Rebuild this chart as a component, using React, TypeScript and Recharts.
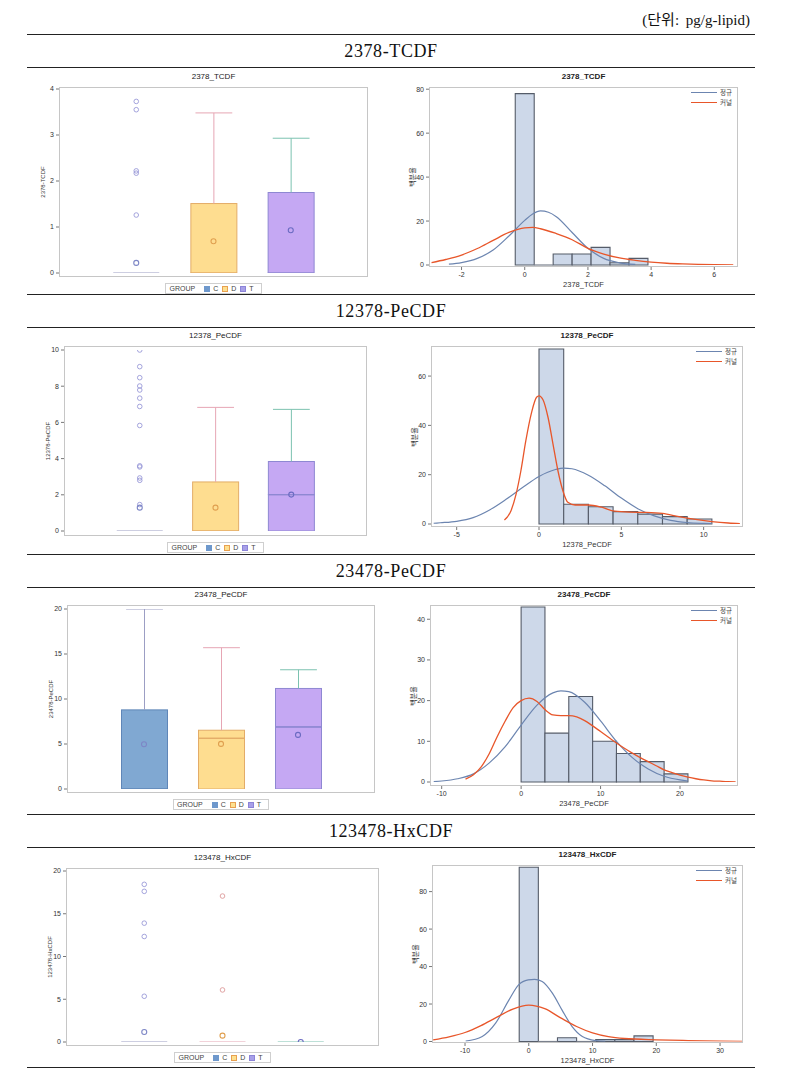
import React from 'react';
import {
  ComposedChart,
  Bar,
  Scatter,
  Line,
  XAxis,
  YAxis,
  ReferenceArea,
  ReferenceLine,
  Legend,
} from 'recharts';

// ---- data ----
const groups = ['C', 'D', 'T'];

// group, min, q1, median, q3, max, mean
const tcdfStats = [
  ['C', 0, 0, 0, 0, 0, 0.22],
  ['D', 0, 0, 0, 1.51, 3.48, 0.69],
  ['T', 0, 0, 0, 1.75, 2.93, 0.93],
];
const tcdfOutliers = [['C', 3.73], ['C', 3.55], ['C', 2.22], ['C', 2.17], ['C', 1.26]];
// bin low, bin high, percent
const tcdfBins = [[-0.3, 0.3, 78], [0.3, 0.9, 0], [0.9, 1.5, 5], [1.5, 2.1, 5], [2.1, 2.7, 8], [2.7, 3.3, 1], [3.3, 3.9, 3]];
const tcdfNormal = [[-2.4, 0.4], [-2, 1.1], [-1.5, 3], [-1, 6.8], [-0.5, 13.2], [0, 20.3], [0.25, 23.2], [0.5, 24.6], [0.75, 24], [1, 22], [1.5, 14.8], [2, 7.6], [2.5, 3], [3, 1], [3.5, 0.25]];
const tcdfKernel = [[-2.95, 1.1], [-2.5, 2.5], [-2, 4.5], [-1.5, 7.5], [-1, 11.2], [-0.5, 14.8], [0, 16.9], [0.25, 17.1], [0.5, 16.5], [1, 14.3], [1.5, 11.5], [2, 7.6], [2.5, 5], [3, 3.2], [3.5, 2.1], [4, 1.3], [4.5, 0.8], [5, 0.5], [5.5, 0.3], [6, 0.15], [6.6, 0.05]];
const tcdfBoxTicks = [0, 1, 2, 3, 4];
const tcdfXTicks = [-2, 0, 2, 4, 6];
const tcdfYTicks = [0, 20, 40, 60, 80];

const pe1Stats = [
  ['C', 0, 0, 0, 0, 0, 1.29],
  ['D', 0, 0, 0, 2.71, 6.83, 1.29],
  ['T', 0, 0, 2.01, 3.84, 6.72, 2.01],
];
const pe1Outliers = [['C', 10.0], ['C', 9.08], ['C', 8.47], ['C', 8.01], ['C', 7.79], ['C', 7.34], ['C', 6.88], ['C', 5.83], ['C', 3.6], ['C', 3.54], ['C', 2.93], ['C', 2.8], ['C', 1.46]];
const pe1Bins = [[0, 1.5, 71], [1.5, 3, 8], [3, 4.5, 7], [4.5, 6, 5], [6, 7.5, 4], [7.5, 9, 3], [9, 10.5, 2]];
const pe1Normal = [[-6.4, 0.3], [-6, 0.5], [-5, 1.1], [-4, 2.6], [-3, 5.7], [-2, 10], [-1, 14.8], [0, 19.3], [1, 22.1], [1.5, 22.7], [2, 22.4], [3, 19.8], [4, 15.5], [5, 10.5], [6, 6.2], [7, 3.3], [8, 1.5], [9, 0.6], [10, 0.25], [10.5, 0.15]];
const pe1Kernel = [[-2.1, 1.6], [-1.7, 5.4], [-1.4, 11.9], [-1.1, 21.6], [-0.8, 33.8], [-0.45, 45.3], [-0.15, 51.4], [0, 52], [0.25, 50.3], [0.55, 43.2], [0.85, 32.4], [1.15, 21.6], [1.45, 13.5], [1.75, 8.8], [2.2, 7.7], [3, 7.7], [3.8, 6.8], [4.6, 5.2], [5.5, 4.8], [6.5, 4.7], [7.5, 4.3], [8.5, 3], [9.5, 1.9], [10.5, 1], [11.5, 0.4], [12.2, 0.15]];
const pe1BoxTicks = [0, 2, 4, 6, 8, 10];
const pe1XTicks = [-5, 0, 5, 10];
const pe1YTicks = [0, 20, 40, 60];

const pe2Stats = [
  ['C', 0, 0, 0, 8.79, 20.0, 4.97],
  ['D', 0, 0, 5.64, 6.53, 15.7, 5.01],
  ['T', 0, 0, 6.9, 11.17, 13.25, 6.01],
];
const pe2Outliers: any[] = [];
const pe2Bins = [[0, 3, 43], [3, 6, 12], [6, 9, 21], [9, 12, 10], [12, 15, 7], [15, 18, 5], [18, 21, 2]];
const pe2Normal = [[-11, 0.1], [-10, 0.25], [-8, 0.8], [-6, 2], [-4, 4.7], [-2, 8.7], [0, 14], [2, 18.9], [4, 21.9], [5, 22.4], [6, 22.2], [8, 19.6], [10, 15], [12, 10], [14, 6], [16, 3.2], [18, 1.4], [20, 0.5], [21, 0.25]];
const pe2Kernel = [[-7, 0.7], [-6, 1.8], [-5, 3.8], [-4, 7], [-3, 11.2], [-2, 15], [-1, 18.3], [0, 20], [1, 20.6], [2, 19.8], [3, 17.8], [4, 16.5], [5, 16.3], [6, 16.3], [7, 16], [8, 15.1], [9, 13.8], [10, 12.4], [11, 11], [12, 9.6], [13, 8.3], [14, 7.1], [15, 6], [16, 5], [17, 4], [18, 3], [19, 2.3], [20, 1.7], [21, 1.2], [22, 0.8], [23, 0.5], [24, 0.3], [25, 0.2], [26, 0.1], [27, 0.05]];
const pe2BoxTicks = [0, 5, 10, 15, 20];
const pe2XTicks = [-10, 0, 10, 20];
const pe2YTicks = [0, 10, 20, 30, 40];

const hxStats = [
  ['C', 0, 0, 0, 0, 0, 1.17],
  ['D', 0, 0, 0, 0, 0, 0.74],
  ['T', 0, 0, 0, 0, 0, 0],
];
const hxOutliers = [['C', 18.44], ['C', 17.62], ['C', 13.9], ['C', 12.34], ['C', 5.35], ['D', 17.07], ['D', 6.09]];
const hxBins = [[-1.5, 1.5, 93], [1.5, 4.5, 0], [4.5, 7.5, 2], [7.5, 10.5, 0], [10.5, 13.5, 1], [13.5, 16.5, 1], [16.5, 19.5, 3]];
const hxNormal = [[-9.9, 0.2], [-7.3, 2.7], [-5.2, 9.8], [-3.1, 22.2], [-1.6, 30.2], [-0.1, 32.9], [0.9, 33.2], [2.1, 32], [3.7, 25.8], [5.2, 16.9], [6.8, 8], [8.4, 2.7], [10.5, 0.5], [12, 0.1]];
const hxKernel = [[-15, 0.9], [-12.5, 2.5], [-10, 4.8], [-7.5, 8.5], [-5, 13], [-2.5, 17.3], [0, 19.4], [2.5, 17.5], [5, 12.6], [7.5, 8], [10, 4.6], [12.5, 2.6], [15, 1.6], [20, 0.9], [25, 0.5], [30, 0.2], [33.5, 0.1]];
const hxBoxTicks = [0, 5, 10, 15, 20];
const hxXTicks = [-10, 0, 10, 20, 30];
const hxYTicks = [0, 20, 40, 60, 80];

// ---- styles ----
const sans = '"Liberation Sans", Arial, "Noto Sans CJK KR", sans-serif';
const korean = '"Noto Sans CJK KR", "Noto Sans", sans-serif';
const serif = '"Liberation Serif", "DejaVu Serif", "Noto Sans CJK KR", serif';
const frameColor = '#c6c6c6';
const tickStyle = { fontSize: 7, fill: '#333', fontFamily: sans };
const boxFill: any = { C: '#80a8d2', D: '#fedd90', T: '#c5a8f3' };
const boxLine: any = { C: '#5f86b8', D: '#e3ac68', T: '#8e88d2' };
const whiskLine: any = { C: '#9c9ec4', D: '#e6a6b4', T: '#7cc2b0' };
const outColor: any = { C: '#9a9ad8', D: '#dc9a9a', T: '#5ab0a0' };
const meanColor: any = { C: '#7d86c6', D: '#e0a050', T: '#6b6bc2' };
const legendSq: any = { C: ['#6e98cc', '#6e98cc'], D: ['#fde08f', '#e8a050'], T: ['#a8a0e8', '#8c84d8'] };
const histFill = '#cdd8e9';
const histStroke = '#555c69';
const normalColor = '#6c85b0';
const kernelColor = '#e8562a';

const BoxShape = (p: any) => {
  const { x, y, width, height, payload } = p;
  if (!(height > 0)) return null;
  return <rect x={x} y={y} width={width} height={height} fill={boxFill[payload.g]} stroke={boxLine[payload.g]} strokeWidth={1} />;
};

const WhiskerShape = (p: any) => {
  const { x, y, width, height, payload } = p;
  if (!(height > 0)) return null;
  const cx = x + width / 2;
  const c = whiskLine[payload.g];
  return (
    <g>
      <line x1={cx} x2={cx} y1={y} y2={y + height} stroke={c} strokeWidth={1} />
      <line x1={x + width * 0.1} x2={x + width * 0.9} y1={y} y2={y} stroke={c} strokeWidth={1} />
    </g>
  );
};

const LowWhiskerShape = (p: any) => {
  const { x, y, width, height, payload } = p;
  if (!(height > 0)) return null;
  const cx = x + width / 2;
  const c = whiskLine[payload.g];
  return (
    <g>
      <line x1={cx} x2={cx} y1={y} y2={y + height} stroke={c} strokeWidth={1} />
      <line x1={x + width * 0.1} x2={x + width * 0.9} y1={y + height} y2={y + height} stroke={c} strokeWidth={1} />
    </g>
  );
};

const MedianShape = (p: any) => {
  const { cx, cy, payload } = p;
  const flat = payload.q3 === payload.q1;
  const c = flat ? whiskLine[payload.g] : boxLine[payload.g];
  return <line x1={cx - 23} x2={cx + 23} y1={cy} y2={cy} stroke={c} strokeWidth={1.2} />;
};

const OutlierShape = (p: any) => (
  <circle cx={p.cx} cy={p.cy} r={2.3} fill="none" stroke={outColor[p.payload.g]} strokeWidth={0.9} />
);
const MeanShape = (p: any) => (
  <circle cx={p.cx} cy={p.cy} r={2.5} fill="none" stroke={meanColor[p.payload.g]} strokeWidth={1.1} />
);

const BoxLegend = () => (
  <div style={{ display: 'flex', justifyContent: 'center' }}>
    <div style={{ display: 'flex', alignItems: 'center', border: '1px solid #cfcfcf', padding: '0 3px', height: 9, fontFamily: sans, fontSize: 7, color: '#444', background: '#fff' }}>
      <span style={{ marginRight: 9 }}>GROUP</span>
      {groups.map((g) => (
        <span key={g} style={{ display: 'flex', alignItems: 'center', marginRight: 4 }}>
          <span style={{ width: 4, height: 4, background: legendSq[g][0], border: `1px solid ${legendSq[g][1]}`, marginRight: 3 }} />
          {g}
        </span>
      ))}
    </div>
  </div>
);

const HistLegend = () => (
  <div style={{ fontFamily: korean, fontSize: 6.5, lineHeight: '9.5px', color: '#444', width: 59 }}>
    {[['정규', normalColor], ['커널', kernelColor]].map(([t, c]) => (
      <div key={t} style={{ display: 'flex', alignItems: 'center', justifyContent: 'flex-end', height: 9.5, whiteSpace: 'nowrap' }}>
        <span style={{ display: 'inline-block', width: 26, height: 0, borderTop: `1.3px solid ${c}`, marginRight: 3 }} />
        <span style={{ display: 'inline-block', width: 15, whiteSpace: 'nowrap' }}>{t}</span>
      </div>
    ))}
  </div>
);

// plot frame, title and rotated y label drawn around the chart's plot area
const FrameAndTitle = ({ ml, mt, frame, title, bold, yLabel, yLabelX, yLabelSize, yFont }: any) => (
  <>
    <div style={{ position: 'absolute', left: ml, top: mt, width: frame.width, height: frame.height, border: `1px solid ${frameColor}`, boxSizing: 'border-box', pointerEvents: 'none' }} />
    <div style={{ position: 'absolute', left: ml, top: mt - 15, width: frame.width, textAlign: 'center', fontFamily: sans, fontSize: 8, fontWeight: bold ? 'bold' : 'normal', color: '#222' }}>{title}</div>
    <div style={{ position: 'absolute', left: yLabelX - 50, top: mt + frame.height / 2 - 5, width: 100, height: 10, lineHeight: '10px', textAlign: 'center', transform: 'rotate(-90deg)', fontFamily: yFont, fontSize: yLabelSize, color: '#333', whiteSpace: 'nowrap' }}>{yLabel}</div>
  </>
);

function BoxPanel({ frame, title, yLabel, stats, outliers, ticks, pad }: any) {
  const ml = 40, mt = 20, mb = 20;
  const W = frame.width + ml + 2;
  const H = frame.height + mt + mb;
  const rows = stats.map(([g, min, q1, median, q3, max]: any) => ({
    g, base: min, lowWhisk: q1 - min, lowBox: median - q1, highBox: q3 - median, highWhisk: max - q3, median, q1, q3,
  }));
  const means = stats.map((s: any) => ({ g: s[0], v: s[6] }));
  const outs = outliers.map(([g, v]: any) => ({ g, v }));
  const xPad = frame.width * 0.125;
  return (
    <div style={{ position: 'absolute', left: frame.left - ml, top: frame.top - mt, width: W, height: H }}>
      <ComposedChart width={W} height={H} data={rows} margin={{ top: mt, left: 0, right: 2, bottom: mb }}>
        <XAxis dataKey="g" type="category" allowDuplicatedCategory={false} height={0} tick={false} tickLine={false}
          axisLine={false} padding={{ left: xPad, right: xPad }} />
        <YAxis type="number" domain={[ticks[0], ticks[ticks.length - 1]]} ticks={ticks} allowDataOverflow width={ml}
          padding={pad} tick={tickStyle} tickSize={3} tickLine={{ stroke: '#777' }} axisLine={false} />
        <Bar dataKey="base" stackId="s" barSize={46} fill="none" isAnimationActive={false} />
        <Bar dataKey="lowWhisk" stackId="s" barSize={46} shape={LowWhiskerShape} isAnimationActive={false} />
        <Bar dataKey="lowBox" stackId="s" barSize={46} shape={BoxShape} isAnimationActive={false} />
        <Bar dataKey="highBox" stackId="s" barSize={46} shape={BoxShape} isAnimationActive={false} />
        <Bar dataKey="highWhisk" stackId="s" barSize={46} shape={WhiskerShape} isAnimationActive={false} />
        <Scatter data={rows} dataKey="median" shape={MedianShape} isAnimationActive={false} />
        <Scatter data={outs} dataKey="v" shape={OutlierShape} isAnimationActive={false} />
        <Scatter data={means} dataKey="v" shape={MeanShape} isAnimationActive={false} />
        <Legend layout="vertical" align="center" verticalAlign="middle" content={() => <BoxLegend />}
          wrapperStyle={{ left: ml, top: H - mb + 6, width: frame.width }} />
      </ComposedChart>
      <FrameAndTitle ml={ml} mt={mt} frame={frame} title={title} yLabel={yLabel} yLabelX={ml - 16} yLabelSize={6} yFont={sans} />
    </div>
  );
}

function HistPanel({ frame, title, xLabel, bins, normal, kernel, xDomain, xTicks, yTop, yTicks, padBottom }: any) {
  const ml = 40, mt = 20, mb = 26;
  const W = frame.width + ml + 2;
  const H = frame.height + mt + mb;
  const normalPts = normal.map(([x, y]: any) => ({ x, y }));
  const kernelPts = kernel.map(([x, y]: any) => ({ x, y }));
  return (
    <div style={{ position: 'absolute', left: frame.left - ml, top: frame.top - mt, width: W, height: H }}>
      <ComposedChart width={W} height={H} margin={{ top: mt, left: 0, right: 2, bottom: 0 }}>
        <XAxis dataKey="x" type="number" domain={xDomain} ticks={xTicks} allowDataOverflow height={mb}
          tick={tickStyle} tickSize={3} tickLine={{ stroke: '#777' }} axisLine={false}
          label={{ value: xLabel, position: 'insideBottom', offset: 6, fontSize: 7.5, fill: '#333', fontFamily: sans }} />
        <YAxis type="number" domain={[0, yTop]} ticks={yTicks} allowDataOverflow width={ml} padding={{ top: 0, bottom: padBottom }}
          tick={tickStyle} tickSize={3} tickLine={{ stroke: '#777' }} axisLine={false} />
        {bins.filter((b: any) => b[2] > 0).map(([lo, hi, p]: any) => (
          <ReferenceArea key={`a${lo}`} x1={lo} x2={hi} y1={0} y2={p} fill={histFill} fillOpacity={1}
            stroke={histStroke} strokeWidth={1.1} ifOverflow="visible" />
        ))}
        {bins.filter((b: any) => b[2] === 0).map(([lo, hi]: any) => (
          <ReferenceLine key={`l${lo}`} segment={[{ x: lo, y: 0 }, { x: hi, y: 0 }]} stroke="#7a808c" strokeWidth={1.2} />
        ))}
        <Line data={normalPts} dataKey="y" type="monotone" dot={false} stroke={normalColor} strokeWidth={1.2} isAnimationActive={false} />
        <Line data={kernelPts} dataKey="y" type="monotone" dot={false} stroke={kernelColor} strokeWidth={1.3} isAnimationActive={false} />
        <Legend layout="vertical" align="center" verticalAlign="middle" content={() => <HistLegend />}
          wrapperStyle={{ left: W - 2 - 62, top: mt + 1, width: 59 }} />
      </ComposedChart>
      <FrameAndTitle ml={ml} mt={mt} frame={frame} title={title} bold yLabel="백분율" yLabelX={ml - 17} yLabelSize={7} yFont={korean} />
    </div>
  );
}

const rules = [35, 68, 295, 328, 555, 588, 815, 848, 1068];
const headings = [
  ['2378-TCDF', 35, 68],
  ['12378-PeCDF', 295, 328],
  ['23478-PeCDF', 555, 588],
  ['123478-HxCDF', 815, 848],
];

export default function App() {
  return (
    <div style={{ position: 'absolute', left: 0, top: 0, width: 786, height: 1070, background: '#fff', fontFamily: serif, overflow: 'hidden' }}>
      <div style={{ position: 'absolute', right: 36, top: 8, fontSize: 15, color: '#111', wordSpacing: 3 }}>(단위: pg/g-lipid)</div>
      {rules.map((y) => (
        <div key={y} style={{ position: 'absolute', left: 27, width: 728, top: y - 0.75, borderTop: '1.5px solid #222' }} />
      ))}
      {headings.map(([t, a, b]: any) => (
        <div key={t} style={{ position: 'absolute', left: 27, width: 728, top: a, height: b - a, display: 'flex', alignItems: 'center', justifyContent: 'center', fontSize: 18, letterSpacing: 0.6, color: '#111' }}>
          {t}
        </div>
      ))}

      <BoxPanel frame={{ left: 59, top: 87, width: 309, height: 190 }} title="2378_TCDF" yLabel="2378-TCDF"
        stats={tcdfStats} outliers={tcdfOutliers} ticks={tcdfBoxTicks} pad={{ top: 2, bottom: 4 }} />
      <HistPanel frame={{ left: 429, top: 87, width: 309, height: 180 }} title="2378_TCDF" xLabel="2378_TCDF"
        bins={tcdfBins} normal={tcdfNormal} kernel={tcdfKernel} xDomain={[-3.03, 6.75]} xTicks={tcdfXTicks}
        yTop={81} yTicks={tcdfYTicks} padBottom={2} />

      <BoxPanel frame={{ left: 64, top: 346, width: 303, height: 190 }} title="12378_PeCDF" yLabel="12378-PeCDF"
        stats={pe1Stats} outliers={pe1Outliers} ticks={pe1BoxTicks} pad={{ top: 4, bottom: 5 }} />
      <HistPanel frame={{ left: 431, top: 346, width: 312, height: 181 }} title="12378_PeCDF" xLabel="12378_PeCDF"
        bins={pe1Bins} normal={pe1Normal} kernel={pe1Kernel} xDomain={[-6.56, 12.39]} xTicks={pe1XTicks}
        yTop={72.2} yTicks={pe1YTicks} padBottom={3} />

      <BoxPanel frame={{ left: 67, top: 605, width: 308, height: 188 }} title="23478_PeCDF" yLabel="23478-PeCDF"
        stats={pe2Stats} outliers={pe2Outliers} ticks={pe2BoxTicks} pad={{ top: 4, bottom: 4 }} />
      <HistPanel frame={{ left: 430, top: 605, width: 308, height: 181 }} title="23478_PeCDF" xLabel="23478_PeCDF"
        bins={pe2Bins} normal={pe2Normal} kernel={pe2Kernel} xDomain={[-11.47, 27.3]} xTicks={pe2XTicks}
        yTop={43.5} yTicks={pe2YTicks} padBottom={4} />

      <BoxPanel frame={{ left: 66, top: 868, width: 313, height: 178 }} title="123478_HxCDF" yLabel="123478-HxCDF"
        stats={hxStats} outliers={hxOutliers} ticks={hxBoxTicks} pad={{ top: 3, bottom: 4 }} />
      <HistPanel frame={{ left: 432, top: 865, width: 311, height: 178 }} title="123478_HxCDF" xLabel="123478_HxCDF"
        bins={hxBins} normal={hxNormal} kernel={hxKernel} xDomain={[-15.18, 33.6]} xTicks={hxXTicks}
        yTop={94.2} yTicks={hxYTicks} padBottom={1.5} />
    </div>
  );
}
